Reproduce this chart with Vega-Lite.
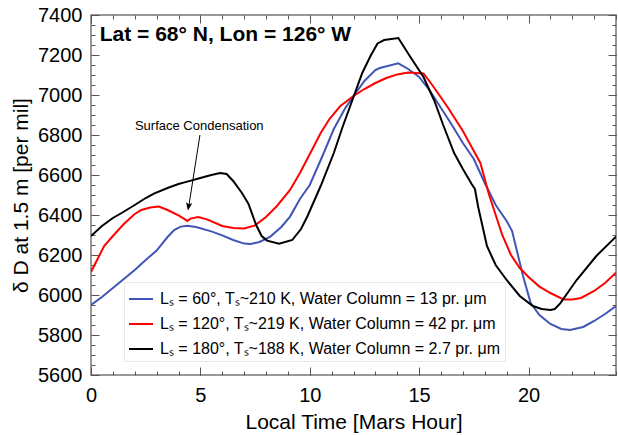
{
  "$schema": "https://vega.github.io/schema/vega-lite/v6.json",
  "width": 525,
  "height": 360,
  "autosize": {"type": "none"},
  "padding": {"left": 91, "top": 15, "right": 2, "bottom": 60},
  "background": "white",
  "config": {
    "font": "Liberation Sans",
    "view": {"stroke": "#777777", "strokeWidth": 1.5},
    "axis": {
      "zindex": 1,
      "labelColor": "#000000",
      "titleColor": "#000000",
      "labelFont": "Liberation Sans",
      "titleFont": "Liberation Sans",
      "labelFontSize": 20,
      "titleFontSize": 21,
      "titleFontWeight": "normal"
    },
    "legend": {
      "orient": "none",
      "legendX": 33,
      "legendY": 267,
      "direction": "vertical",
      "symbolType": "stroke",
      "symbolStrokeWidth": 2,
      "symbolSize": 576,
      "labelFont": "Liberation Sans",
      "labelFontSize": 16,
      "labelColor": "#000000",
      "labelLimit": 500,
      "labelOffset": 6,
      "rowPadding": 4,
      "padding": 4,
      "strokeColor": "#e8e8e8",
      "fillColor": "#ffffff",
      "title": null
    }
  },
  "datasets": {
    "lines": [
      {"series": "60", "hour": 0, "value": 5950},
      {"series": "60", "hour": 0.5, "value": 5990},
      {"series": "60", "hour": 1, "value": 6035},
      {"series": "60", "hour": 1.5, "value": 6080},
      {"series": "60", "hour": 2, "value": 6125},
      {"series": "60", "hour": 2.5, "value": 6175},
      {"series": "60", "hour": 3, "value": 6222},
      {"series": "60", "hour": 3.5, "value": 6290},
      {"series": "60", "hour": 3.8, "value": 6325},
      {"series": "60", "hour": 4.1, "value": 6342},
      {"series": "60", "hour": 4.4, "value": 6346},
      {"series": "60", "hour": 4.8, "value": 6340},
      {"series": "60", "hour": 5.5, "value": 6318},
      {"series": "60", "hour": 6, "value": 6298},
      {"series": "60", "hour": 6.5, "value": 6275},
      {"series": "60", "hour": 7, "value": 6257},
      {"series": "60", "hour": 7.3, "value": 6255},
      {"series": "60", "hour": 7.7, "value": 6265},
      {"series": "60", "hour": 8.2, "value": 6292},
      {"series": "60", "hour": 8.7, "value": 6340},
      {"series": "60", "hour": 9.1, "value": 6392},
      {"series": "60", "hour": 9.55, "value": 6480},
      {"series": "60", "hour": 10, "value": 6550},
      {"series": "60", "hour": 10.6, "value": 6700},
      {"series": "60", "hour": 11.1, "value": 6830},
      {"series": "60", "hour": 11.6, "value": 6930},
      {"series": "60", "hour": 12, "value": 6995},
      {"series": "60", "hour": 12.5, "value": 7070},
      {"series": "60", "hour": 13, "value": 7125},
      {"series": "60", "hour": 13.2, "value": 7135},
      {"series": "60", "hour": 14.05, "value": 7158},
      {"series": "60", "hour": 14.5, "value": 7130},
      {"series": "60", "hour": 15, "value": 7090},
      {"series": "60", "hour": 15.5, "value": 7020},
      {"series": "60", "hour": 16, "value": 6935},
      {"series": "60", "hour": 16.5, "value": 6850},
      {"series": "60", "hour": 17, "value": 6760},
      {"series": "60", "hour": 17.5, "value": 6680},
      {"series": "60", "hour": 18, "value": 6560},
      {"series": "60", "hour": 18.5, "value": 6450},
      {"series": "60", "hour": 19, "value": 6370},
      {"series": "60", "hour": 19.25, "value": 6320},
      {"series": "60", "hour": 19.45, "value": 6230},
      {"series": "60", "hour": 19.75, "value": 6095},
      {"series": "60", "hour": 20.1, "value": 5960},
      {"series": "60", "hour": 20.5, "value": 5900},
      {"series": "60", "hour": 21, "value": 5855},
      {"series": "60", "hour": 21.5, "value": 5830},
      {"series": "60", "hour": 21.9, "value": 5825},
      {"series": "60", "hour": 22.5, "value": 5840},
      {"series": "60", "hour": 23, "value": 5870},
      {"series": "60", "hour": 23.5, "value": 5905},
      {"series": "60", "hour": 24, "value": 5945},

      {"series": "120", "hour": 0, "value": 6115},
      {"series": "120", "hour": 0.3, "value": 6180},
      {"series": "120", "hour": 0.6, "value": 6245},
      {"series": "120", "hour": 1, "value": 6295},
      {"series": "120", "hour": 1.5, "value": 6355},
      {"series": "120", "hour": 2, "value": 6405},
      {"series": "120", "hour": 2.3, "value": 6425},
      {"series": "120", "hour": 2.7, "value": 6437},
      {"series": "120", "hour": 3.1, "value": 6442},
      {"series": "120", "hour": 3.5, "value": 6425},
      {"series": "120", "hour": 4, "value": 6398},
      {"series": "120", "hour": 4.3, "value": 6378},
      {"series": "120", "hour": 4.4, "value": 6370},
      {"series": "120", "hour": 4.55, "value": 6382},
      {"series": "120", "hour": 4.9, "value": 6390},
      {"series": "120", "hour": 5.3, "value": 6378},
      {"series": "120", "hour": 6, "value": 6345},
      {"series": "120", "hour": 6.5, "value": 6335},
      {"series": "120", "hour": 7, "value": 6333},
      {"series": "120", "hour": 7.5, "value": 6348},
      {"series": "120", "hour": 8, "value": 6390},
      {"series": "120", "hour": 8.5, "value": 6445},
      {"series": "120", "hour": 9.1, "value": 6525},
      {"series": "120", "hour": 9.55, "value": 6610},
      {"series": "120", "hour": 10.1, "value": 6725},
      {"series": "120", "hour": 10.5, "value": 6810},
      {"series": "120", "hour": 10.9, "value": 6880},
      {"series": "120", "hour": 11.4, "value": 6945},
      {"series": "120", "hour": 12, "value": 6995},
      {"series": "120", "hour": 12.5, "value": 7030},
      {"series": "120", "hour": 13, "value": 7060},
      {"series": "120", "hour": 13.5, "value": 7085},
      {"series": "120", "hour": 14, "value": 7103},
      {"series": "120", "hour": 14.5, "value": 7112},
      {"series": "120", "hour": 15.2, "value": 7108},
      {"series": "120", "hour": 15.6, "value": 7050},
      {"series": "120", "hour": 16.3, "value": 6940},
      {"series": "120", "hour": 17, "value": 6820},
      {"series": "120", "hour": 17.8, "value": 6660},
      {"series": "120", "hour": 18.2, "value": 6500},
      {"series": "120", "hour": 18.8, "value": 6300},
      {"series": "120", "hour": 19.2, "value": 6200},
      {"series": "120", "hour": 19.6, "value": 6135},
      {"series": "120", "hour": 20, "value": 6090},
      {"series": "120", "hour": 20.5, "value": 6042},
      {"series": "120", "hour": 21, "value": 6010},
      {"series": "120", "hour": 21.6, "value": 5978},
      {"series": "120", "hour": 22, "value": 5978},
      {"series": "120", "hour": 22.4, "value": 5985},
      {"series": "120", "hour": 23, "value": 6020},
      {"series": "120", "hour": 23.5, "value": 6060},
      {"series": "120", "hour": 24, "value": 6112},

      {"series": "180", "hour": 0, "value": 6295},
      {"series": "180", "hour": 0.5, "value": 6345},
      {"series": "180", "hour": 1, "value": 6385},
      {"series": "180", "hour": 1.4, "value": 6410},
      {"series": "180", "hour": 2, "value": 6450},
      {"series": "180", "hour": 2.5, "value": 6485},
      {"series": "180", "hour": 2.9, "value": 6508},
      {"series": "180", "hour": 3.5, "value": 6535},
      {"series": "180", "hour": 4, "value": 6555},
      {"series": "180", "hour": 4.4, "value": 6567},
      {"series": "180", "hour": 5, "value": 6585},
      {"series": "180", "hour": 5.5, "value": 6600},
      {"series": "180", "hour": 5.9, "value": 6610},
      {"series": "180", "hour": 6.2, "value": 6605},
      {"series": "180", "hour": 6.5, "value": 6570},
      {"series": "180", "hour": 6.9, "value": 6510},
      {"series": "180", "hour": 7.2, "value": 6455},
      {"series": "180", "hour": 7.55, "value": 6350},
      {"series": "180", "hour": 7.8, "value": 6295},
      {"series": "180", "hour": 8.05, "value": 6272},
      {"series": "180", "hour": 8.6, "value": 6256},
      {"series": "180", "hour": 9.2, "value": 6275},
      {"series": "180", "hour": 9.6, "value": 6330},
      {"series": "180", "hour": 9.9, "value": 6395},
      {"series": "180", "hour": 10.5, "value": 6545},
      {"series": "180", "hour": 11.1, "value": 6710},
      {"series": "180", "hour": 11.5, "value": 6840},
      {"series": "180", "hour": 12, "value": 6990},
      {"series": "180", "hour": 12.4, "value": 7110},
      {"series": "180", "hour": 12.8, "value": 7200},
      {"series": "180", "hour": 13.1, "value": 7258},
      {"series": "180", "hour": 13.4, "value": 7275},
      {"series": "180", "hour": 14.05, "value": 7285},
      {"series": "180", "hour": 14.6, "value": 7190},
      {"series": "180", "hour": 15.2, "value": 7090},
      {"series": "180", "hour": 15.7, "value": 6970},
      {"series": "180", "hour": 16.1, "value": 6850},
      {"series": "180", "hour": 16.6, "value": 6710},
      {"series": "180", "hour": 17, "value": 6630},
      {"series": "180", "hour": 17.4, "value": 6555},
      {"series": "180", "hour": 17.55, "value": 6530},
      {"series": "180", "hour": 17.7, "value": 6440},
      {"series": "180", "hour": 18.1, "value": 6245},
      {"series": "180", "hour": 18.5, "value": 6150},
      {"series": "180", "hour": 19, "value": 6075},
      {"series": "180", "hour": 19.6, "value": 5995},
      {"series": "180", "hour": 20.2, "value": 5945},
      {"series": "180", "hour": 20.6, "value": 5930},
      {"series": "180", "hour": 21, "value": 5925},
      {"series": "180", "hour": 21.2, "value": 5930},
      {"series": "180", "hour": 21.45, "value": 5958},
      {"series": "180", "hour": 22.2, "value": 6075},
      {"series": "180", "hour": 23.1, "value": 6195},
      {"series": "180", "hour": 24, "value": 6292}
    ]
  },
  "layer": [
    {
      "data": {"name": "lines"},
      "mark": {"type": "line", "strokeWidth": 2, "clip": true},
      "encoding": {
        "x": {
          "field": "hour", "type": "quantitative",
          "scale": {"domain": [0, 24], "nice": false, "zero": false},
          "axis": {"orient": "bottom", "values": [0, 5, 10, 15, 20], "ticks": true, "tickSize": -8, "tickColor": "#555555", "tickWidth": 1, "domain": false, "grid": false, "labelPadding": 18, "labelFlush": false, "format": "d", "title": "Local Time [Mars Hour]", "titlePadding": 6}
        },
        "y": {
          "field": "value", "type": "quantitative",
          "scale": {"domain": [5600, 7400], "nice": false, "zero": false},
          "axis": {"orient": "left", "values": [5600, 5800, 6000, 6200, 6400, 6600, 6800, 7000, 7200, 7400], "ticks": true, "tickSize": -8, "tickColor": "#555555", "tickWidth": 1, "domain": false, "grid": false, "labelPadding": 17, "labelFlush": false, "format": "d", "title": "δ D at 1.5 m [per mil]", "titlePadding": 6}
        },
        "color": {
          "field": "series", "type": "nominal",
          "scale": {"domain": ["60", "120", "180"], "range": ["#4055b5", "#ff0000", "#000000"]},
          "legend": {
            "labelExpr": "datum.label == '60' ? 'Lₛ = 60°, Tₛ~210 K, Water Column = 13 pr. μm' : datum.label == '120' ? 'Lₛ = 120°, Tₛ~219 K, Water Column = 42 pr. μm' : 'Lₛ = 180°, Tₛ~188 K, Water Column = 2.7 pr. μm'"
          }
        }
      }
    },
    {
      "data": {"name": "lines"},
      "mark": {"type": "point", "opacity": 0},
      "encoding": {
        "x": {"field": "hour", "type": "quantitative", "axis": {"orient": "bottom", "values": [0,1,2,3,4,5,6,7,8,9,10,11,12,13,14,15,16,17,18,19,20,21,22,23,24], "ticks": true, "tickSize": -4, "tickColor": "#555555", "tickWidth": 1, "domain": false, "grid": false, "labels": false, "title": null}},
        "y": {"field": "value", "type": "quantitative", "axis": {"orient": "left", "values": [5600,5650,5700,5750,5800,5850,5900,5950,6000,6050,6100,6150,6200,6250,6300,6350,6400,6450,6500,6550,6600,6650,6700,6750,6800,6850,6900,6950,7000,7050,7100,7150,7200,7250,7300,7350,7400], "ticks": true, "tickSize": -4, "tickColor": "#555555", "tickWidth": 1, "domain": false, "grid": false, "labels": false, "title": null}}
      }
    },
    {
      "data": {"name": "lines"},
      "mark": {"type": "point", "opacity": 0},
      "encoding": {
        "x": {"field": "hour", "type": "quantitative", "axis": {"orient": "top", "values": [0, 5, 10, 15, 20], "ticks": true, "tickSize": -8, "tickColor": "#555555", "tickWidth": 1, "domain": false, "grid": false, "labels": false, "title": null}},
        "y": {"field": "value", "type": "quantitative", "axis": {"orient": "right", "values": [5600, 5800, 6000, 6200, 6400, 6600, 6800, 7000, 7200, 7400], "ticks": true, "tickSize": -8, "tickColor": "#555555", "tickWidth": 1, "domain": false, "grid": false, "labels": false, "title": null}}
      }
    },
    {
      "data": {"name": "lines"},
      "mark": {"type": "point", "opacity": 0},
      "encoding": {
        "x": {"field": "hour", "type": "quantitative", "axis": {"orient": "top", "values": [0,1,2,3,4,5,6,7,8,9,10,11,12,13,14,15,16,17,18,19,20,21,22,23,24], "ticks": true, "tickSize": -4, "tickColor": "#555555", "tickWidth": 1, "domain": false, "grid": false, "labels": false, "title": null}},
        "y": {"field": "value", "type": "quantitative", "axis": {"orient": "right", "values": [5600,5650,5700,5750,5800,5850,5900,5950,6000,6050,6100,6150,6200,6250,6300,6350,6400,6450,6500,6550,6600,6650,6700,6750,6800,6850,6900,6950,7000,7050,7100,7150,7200,7250,7300,7350,7400], "ticks": true, "tickSize": -4, "tickColor": "#555555", "tickWidth": 1, "domain": false, "grid": false, "labels": false, "title": null}}
      }
    },
    {
      "data": {"values": [{"hour": 0.4, "value": 7300, "text": "Lat = 68° N, Lon = 126° W"}]},
      "mark": {"type": "text", "align": "left", "baseline": "middle", "fontSize": 21, "fontWeight": "bold", "font": "Liberation Sans", "color": "#000000"},
      "encoding": {
        "x": {"field": "hour", "type": "quantitative", "axis": null},
        "y": {"field": "value", "type": "quantitative", "axis": null},
        "text": {"field": "text"}
      }
    },
    {
      "data": {"values": [{"hour": 4.95, "value": 6845, "text": "Surface Condensation"}]},
      "mark": {"type": "text", "align": "center", "baseline": "middle", "fontSize": 13, "font": "Liberation Sans", "color": "#000000"},
      "encoding": {
        "x": {"field": "hour", "type": "quantitative", "axis": null},
        "y": {"field": "value", "type": "quantitative", "axis": null},
        "text": {"field": "text"}
      }
    },
    {
      "data": {"values": [{"hour": 4.98, "value": 6800, "hour2": 4.45, "value2": 6430}]},
      "mark": {"type": "rule", "color": "#000000", "strokeWidth": 1},
      "encoding": {
        "x": {"field": "hour", "type": "quantitative", "axis": null},
        "y": {"field": "value", "type": "quantitative", "axis": null},
        "x2": {"field": "hour2"},
        "y2": {"field": "value2"}
      }
    },
    {
      "data": {"values": [{"hour": 4.43, "value": 6422}]},
      "mark": {"type": "point", "shape": "M0,0L-0.4,-1L0,-0.8L0.4,-1Z", "filled": true, "color": "#000000", "opacity": 1, "size": 256, "angle": 9},
      "encoding": {
        "x": {"field": "hour", "type": "quantitative", "axis": null},
        "y": {"field": "value", "type": "quantitative", "axis": null}
      }
    }
  ],
  "resolve": {"axis": {"x": "independent", "y": "independent"}}
}
